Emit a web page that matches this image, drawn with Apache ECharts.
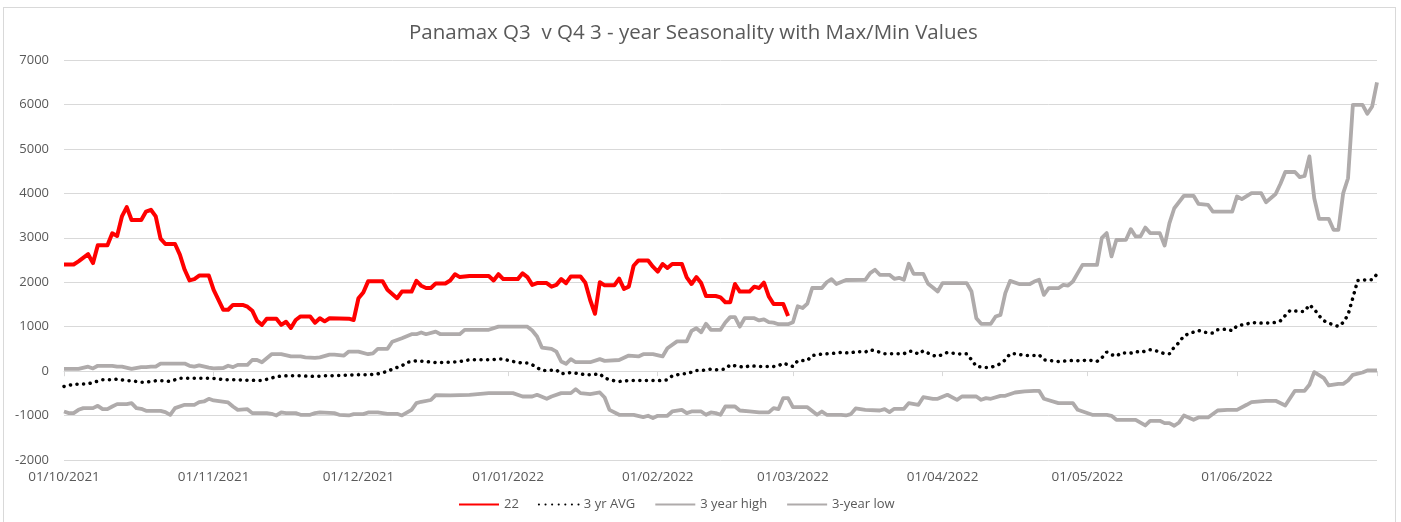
<!DOCTYPE html>
<html>
<head>
<meta charset="utf-8">
<title>Panamax Q3 v Q4 seasonality</title>
<script src="https://cdn.jsdelivr.net/npm/echarts@6/dist/echarts.min.js"></script>
<style>
  html, body { margin: 0; background: #fff; }
  #frame { position: absolute; left: 3px; top: 7px; width: 1391px; height: 530px; border: 1px solid #d9d9d9; }
  #chart { position: absolute; left: 0; top: 0; width: 1401px; height: 522px; }
</style>
</head>
<body>
<div id="frame"></div>
<div id="chart"></div>
<script>
// values, [date, value]
const series22 = [
  ['2021-10-01', 2400], ['2021-10-03', 2400], ['2021-10-04', 2470], ['2021-10-06', 2630], ['2021-10-07', 2430],
  ['2021-10-08', 2830], ['2021-10-10', 2830], ['2021-10-11', 3100], ['2021-10-12', 3040], ['2021-10-13', 3480],
  ['2021-10-14', 3690], ['2021-10-15', 3400], ['2021-10-17', 3400], ['2021-10-18', 3590], ['2021-10-19', 3630],
  ['2021-10-20', 3480], ['2021-10-21', 2980], ['2021-10-22', 2860], ['2021-10-24', 2860], ['2021-10-25', 2620],
  ['2021-10-26', 2280], ['2021-10-27', 2040], ['2021-10-28', 2070], ['2021-10-29', 2150], ['2021-10-31', 2150],
  ['2021-11-01', 1830], ['2021-11-03', 1380], ['2021-11-04', 1380], ['2021-11-05', 1490], ['2021-11-07', 1490],
  ['2021-11-08', 1450], ['2021-11-09', 1360], ['2021-11-10', 1130], ['2021-11-11', 1040], ['2021-11-12', 1180],
  ['2021-11-14', 1180], ['2021-11-15', 1040], ['2021-11-16', 1110], ['2021-11-17', 970], ['2021-11-18', 1150],
  ['2021-11-19', 1230], ['2021-11-21', 1230], ['2021-11-22', 1090], ['2021-11-23', 1190], ['2021-11-24', 1120],
  ['2021-11-25', 1190], ['2021-11-29', 1180], ['2021-11-30', 1150], ['2021-12-01', 1640], ['2021-12-02', 1770],
  ['2021-12-03', 2020], ['2021-12-06', 2020], ['2021-12-07', 1830], ['2021-12-09', 1640], ['2021-12-10', 1790],
  ['2021-12-12', 1790], ['2021-12-13', 2030], ['2021-12-14', 1920], ['2021-12-15', 1870], ['2021-12-16', 1870],
  ['2021-12-17', 1970], ['2021-12-19', 1970], ['2021-12-20', 2040], ['2021-12-21', 2180], ['2021-12-22', 2115],
  ['2021-12-24', 2140], ['2021-12-28', 2140], ['2021-12-29', 2040], ['2021-12-30', 2180], ['2021-12-31', 2070],
  ['2022-01-03', 2070], ['2022-01-04', 2200], ['2022-01-05', 2115], ['2022-01-06', 1940], ['2022-01-07', 1980],
  ['2022-01-09', 1980], ['2022-01-10', 1900], ['2022-01-11', 1940], ['2022-01-12', 2070], ['2022-01-13', 1980],
  ['2022-01-14', 2130], ['2022-01-16', 2130], ['2022-01-17', 1990], ['2022-01-18', 1600], ['2022-01-19', 1290],
  ['2022-01-20', 2000], ['2022-01-21', 1930], ['2022-01-23', 1930], ['2022-01-24', 2080], ['2022-01-25', 1850],
  ['2022-01-26', 1900], ['2022-01-27', 2370], ['2022-01-28', 2490], ['2022-01-30', 2490], ['2022-01-31', 2350],
  ['2022-02-01', 2240], ['2022-02-02', 2410], ['2022-02-03', 2320], ['2022-02-04', 2410], ['2022-02-06', 2410],
  ['2022-02-07', 2110], ['2022-02-08', 1960], ['2022-02-09', 2115], ['2022-02-10', 1980], ['2022-02-11', 1690],
  ['2022-02-13', 1690], ['2022-02-14', 1660], ['2022-02-15', 1550], ['2022-02-16', 1550], ['2022-02-17', 1960],
  ['2022-02-18', 1790], ['2022-02-20', 1790], ['2022-02-21', 1900], ['2022-02-22', 1870], ['2022-02-23', 1990],
  ['2022-02-24', 1680], ['2022-02-25', 1510], ['2022-02-27', 1510], ['2022-02-28', 1240]
]

const avg3yr = [
  ['2021-10-01', -345], ['2021-10-03', -295], ['2021-10-06', -286], ['2021-10-07', -256], ['2021-10-09', -196],
  ['2021-10-11', -196], ['2021-10-12', -180], ['2021-10-14', -218], ['2021-10-15', -218], ['2021-10-17', -248],
  ['2021-10-18', -248], ['2021-10-20', -218], ['2021-10-22', -218], ['2021-10-23', -233], ['2021-10-25', -158],
  ['2021-10-31', -158], ['2021-11-02', -173], ['2021-11-03', -196], ['2021-11-06', -196], ['2021-11-10', -211],
  ['2021-11-11', -211], ['2021-11-13', -158], ['2021-11-14', -121], ['2021-11-16', -106], ['2021-11-19', -106],
  ['2021-11-22', -121], ['2021-11-24', -106], ['2021-11-27', -98], ['2021-11-30', -83], ['2021-12-03', -83],
  ['2021-12-05', -61], ['2021-12-07', -8], ['2021-12-08', 45], ['2021-12-10', 120], ['2021-12-11', 195],
  ['2021-12-13', 232], ['2021-12-15', 216], ['2021-12-17', 194], ['2021-12-20', 200], ['2021-12-22', 216],
  ['2021-12-24', 254], ['2021-12-28', 254], ['2021-12-30', 270], ['2021-12-31', 270], ['2022-01-02', 216],
  ['2022-01-04', 180], ['2022-01-05', 180], ['2022-01-06', 142], ['2022-01-08', 14], ['2022-01-09', 14],
  ['2022-01-11', 29], ['2022-01-12', -61], ['2022-01-14', -31], ['2022-01-15', -46], ['2022-01-17', -83],
  ['2022-01-18', -83], ['2022-01-20', -61], ['2022-01-21', -158], ['2022-01-23', -218], ['2022-01-24', -233],
  ['2022-01-26', -211], ['2022-01-31', -211], ['2022-02-01', -218], ['2022-02-03', -196], ['2022-02-04', -106],
  ['2022-02-06', -61], ['2022-02-07', -61], ['2022-02-09', 14], ['2022-02-10', 14], ['2022-02-12', 45],
  ['2022-02-13', 29], ['2022-02-15', 45], ['2022-02-16', 142], ['2022-02-17', 120], ['2022-02-19', 83],
  ['2022-02-20', 120], ['2022-02-22', 104], ['2022-02-25', 104], ['2022-02-26', 120], ['2022-02-27', 180],
  ['2022-03-01', 104], ['2022-03-02', 232], ['2022-03-04', 240], ['2022-03-05', 352], ['2022-03-07', 382],
  ['2022-03-08', 390], ['2022-03-10', 405], ['2022-03-11', 420], ['2022-03-13', 405], ['2022-03-14', 442],
  ['2022-03-16', 427], ['2022-03-17', 480], ['2022-03-19', 427], ['2022-03-20', 390], ['2022-03-24', 390],
  ['2022-03-25', 450], ['2022-03-26', 442], ['2022-03-27', 382], ['2022-03-28', 457], ['2022-03-30', 352],
  ['2022-03-31', 330], ['2022-04-02', 420], ['2022-04-03', 405], ['2022-04-05', 382], ['2022-04-06', 390],
  ['2022-04-07', 255], ['2022-04-08', 105], ['2022-04-10', 82], ['2022-04-11', 82], ['2022-04-13', 165],
  ['2022-04-14', 255], ['2022-04-15', 390], ['2022-04-16', 390], ['2022-04-18', 352], ['2022-04-20', 352],
  ['2022-04-21', 367], ['2022-04-22', 255], ['2022-04-23', 240], ['2022-04-25', 217], ['2022-04-26', 225],
  ['2022-04-28', 240], ['2022-04-30', 232], ['2022-05-01', 254], ['2022-05-03', 217], ['2022-05-04', 300],
  ['2022-05-05', 430], ['2022-05-06', 370], ['2022-05-07', 335], ['2022-05-08', 410], ['2022-05-10', 405],
  ['2022-05-11', 442], ['2022-05-12', 420], ['2022-05-14', 480], ['2022-05-15', 465], ['2022-05-17', 390],
  ['2022-05-18', 390], ['2022-05-19', 540], ['2022-05-20', 645], ['2022-05-21', 795], ['2022-05-22', 840],
  ['2022-05-24', 915], ['2022-05-25', 877], ['2022-05-27', 855], ['2022-05-28', 930], ['2022-05-30', 945],
  ['2022-05-31', 907], ['2022-06-01', 1020], ['2022-06-03', 1057], ['2022-06-04', 1095], ['2022-06-06', 1080],
  ['2022-06-07', 1080], ['2022-06-09', 1095], ['2022-06-10', 1132], ['2022-06-11', 1252], ['2022-06-12', 1365],
  ['2022-06-14', 1342], ['2022-06-15', 1342], ['2022-06-16', 1492], ['2022-06-17', 1395], ['2022-06-18', 1245],
  ['2022-06-19', 1132], ['2022-06-20', 1080], ['2022-06-22', 1005], ['2022-06-23', 1095], ['2022-06-24', 1267],
  ['2022-06-25', 1650], ['2022-06-26', 2040], ['2022-06-28', 2055], ['2022-06-29', 2055], ['2022-06-30', 2182]
]

const high3yr = [
  ['2021-10-01', 50], ['2021-10-04', 50], ['2021-10-06', 100], ['2021-10-07', 60], ['2021-10-08', 120],
  ['2021-10-11', 120], ['2021-10-12', 100], ['2021-10-13', 100], ['2021-10-15', 50], ['2021-10-17', 90],
  ['2021-10-18', 90], ['2021-10-19', 100], ['2021-10-20', 100], ['2021-10-21', 170], ['2021-10-26', 170],
  ['2021-10-27', 120], ['2021-10-28', 100], ['2021-10-29', 130], ['2021-10-31', 80], ['2021-11-01', 60],
  ['2021-11-03', 70], ['2021-11-04', 120], ['2021-11-05', 90], ['2021-11-06', 140], ['2021-11-08', 140],
  ['2021-11-09', 250], ['2021-11-10', 250], ['2021-11-11', 200], ['2021-11-13', 380], ['2021-11-15', 380],
  ['2021-11-17', 330], ['2021-11-19', 330], ['2021-11-20', 310], ['2021-11-22', 300], ['2021-11-23', 310],
  ['2021-11-25', 370], ['2021-11-26', 370], ['2021-11-28', 350], ['2021-11-29', 440], ['2021-12-01', 440],
  ['2021-12-03', 380], ['2021-12-04', 400], ['2021-12-05', 500], ['2021-12-07', 500], ['2021-12-08', 660],
  ['2021-12-10', 740], ['2021-12-12', 830], ['2021-12-13', 830], ['2021-12-14', 870], ['2021-12-15', 830],
  ['2021-12-17', 890], ['2021-12-18', 830], ['2021-12-22', 830], ['2021-12-23', 930], ['2021-12-28', 930],
  ['2021-12-30', 1000], ['2022-01-05', 1000], ['2022-01-06', 915], ['2022-01-07', 780], ['2022-01-08', 530],
  ['2022-01-10', 500], ['2022-01-11', 440], ['2022-01-12', 216], ['2022-01-13', 165], ['2022-01-14', 270],
  ['2022-01-15', 200], ['2022-01-18', 200], ['2022-01-20', 270], ['2022-01-21', 230], ['2022-01-24', 250],
  ['2022-01-26', 350], ['2022-01-28', 330], ['2022-01-29', 380], ['2022-01-31', 380], ['2022-02-02', 330],
  ['2022-02-03', 515], ['2022-02-05', 670], ['2022-02-07', 670], ['2022-02-08', 905], ['2022-02-09', 965],
  ['2022-02-10', 875], ['2022-02-11', 1065], ['2022-02-12', 930], ['2022-02-14', 930], ['2022-02-15', 1095],
  ['2022-02-16', 1215], ['2022-02-17', 1215], ['2022-02-18', 1000], ['2022-02-19', 1190], ['2022-02-21', 1190],
  ['2022-02-22', 1140], ['2022-02-23', 1165], ['2022-02-24', 1100], ['2022-02-25', 1090], ['2022-02-26', 1055],
  ['2022-02-28', 1055], ['2022-03-01', 1100], ['2022-03-02', 1460], ['2022-03-03', 1420], ['2022-03-04', 1520],
  ['2022-03-05', 1870], ['2022-03-07', 1870], ['2022-03-08', 2000], ['2022-03-09', 2070], ['2022-03-10', 1960],
  ['2022-03-12', 2050], ['2022-03-16', 2055], ['2022-03-17', 2205], ['2022-03-18', 2280], ['2022-03-19', 2167],
  ['2022-03-21', 2167], ['2022-03-22', 2077], ['2022-03-23', 2100], ['2022-03-24', 2055], ['2022-03-25', 2415],
  ['2022-03-26', 2190], ['2022-03-28', 2190], ['2022-03-29', 1965], ['2022-03-30', 1880], ['2022-03-31', 1790],
  ['2022-04-01', 1980], ['2022-04-06', 1980], ['2022-04-07', 1790], ['2022-04-08', 1190], ['2022-04-09', 1065],
  ['2022-04-11', 1065], ['2022-04-12', 1230], ['2022-04-13', 1265], ['2022-04-14', 1755], ['2022-04-15', 2030],
  ['2022-04-17', 1955], ['2022-04-19', 1955], ['2022-04-20', 2015], ['2022-04-21', 2055], ['2022-04-22', 1715],
  ['2022-04-23', 1865], ['2022-04-25', 1865], ['2022-04-26', 1940], ['2022-04-27', 1925], ['2022-04-28', 2015],
  ['2022-04-29', 2205], ['2022-04-30', 2390], ['2022-05-03', 2390], ['2022-05-04', 3000], ['2022-05-05', 3105],
  ['2022-05-06', 2580], ['2022-05-07', 2950], ['2022-05-09', 2955], ['2022-05-10', 3195], ['2022-05-11', 3030],
  ['2022-05-12', 3030], ['2022-05-13', 3230], ['2022-05-14', 3105], ['2022-05-16', 3105], ['2022-05-17', 2825],
  ['2022-05-18', 3330], ['2022-05-19', 3665], ['2022-05-21', 3945], ['2022-05-23', 3945], ['2022-05-24', 3765],
  ['2022-05-26', 3740], ['2022-05-27', 3590], ['2022-05-31', 3590], ['2022-06-01', 3930], ['2022-06-02', 3870],
  ['2022-06-04', 4005], ['2022-06-06', 4005], ['2022-06-07', 3800], ['2022-06-09', 3985], ['2022-06-10', 4215],
  ['2022-06-11', 4480], ['2022-06-13', 4480], ['2022-06-14', 4365], ['2022-06-15', 4390], ['2022-06-16', 4830],
  ['2022-06-17', 3890], ['2022-06-18', 3425], ['2022-06-20', 3425], ['2022-06-21', 3180], ['2022-06-22', 3180],
  ['2022-06-23', 4005], ['2022-06-24', 4340], ['2022-06-25', 5990], ['2022-06-27', 5990], ['2022-06-28', 5790],
  ['2022-06-29', 5955], ['2022-06-30', 6495]
]

const low3yr = [
  ['2021-10-01', -909], ['2021-10-02', -945], ['2021-10-03', -945], ['2021-10-04', -871], ['2021-10-05', -833],
  ['2021-10-07', -833], ['2021-10-08', -781], ['2021-10-09', -856], ['2021-10-10', -856], ['2021-10-11', -796],
  ['2021-10-12', -743], ['2021-10-14', -743], ['2021-10-15', -720], ['2021-10-16', -833], ['2021-10-17', -848],
  ['2021-10-18', -893], ['2021-10-21', -893], ['2021-10-22', -923], ['2021-10-23', -983], ['2021-10-24', -833],
  ['2021-10-26', -758], ['2021-10-28', -758], ['2021-10-29', -698], ['2021-10-30', -683], ['2021-10-31', -623],
  ['2021-11-01', -661], ['2021-11-04', -706], ['2021-11-05', -796], ['2021-11-06', -871], ['2021-11-08', -856],
  ['2021-11-09', -945], ['2021-11-12', -945], ['2021-11-13', -960], ['2021-11-14', -998], ['2021-11-15', -930],
  ['2021-11-16', -945], ['2021-11-18', -945], ['2021-11-19', -983], ['2021-11-21', -983], ['2021-11-22', -945],
  ['2021-11-23', -930], ['2021-11-26', -945], ['2021-11-27', -983], ['2021-11-29', -998], ['2021-11-30', -968],
  ['2021-12-02', -968], ['2021-12-03', -930], ['2021-12-05', -930], ['2021-12-07', -960], ['2021-12-09', -960],
  ['2021-12-10', -998], ['2021-12-12', -871], ['2021-12-13', -720], ['2021-12-14', -690], ['2021-12-16', -650],
  ['2021-12-17', -540], ['2021-12-20', -548], ['2021-12-24', -533], ['2021-12-28', -496], ['2022-01-02', -496],
  ['2022-01-04', -571], ['2022-01-06', -571], ['2022-01-07', -533], ['2022-01-09', -623], ['2022-01-10', -571],
  ['2022-01-12', -496], ['2022-01-14', -496], ['2022-01-15', -406], ['2022-01-16', -496], ['2022-01-18', -518],
  ['2022-01-20', -481], ['2022-01-21', -593], ['2022-01-22', -871], ['2022-01-24', -983], ['2022-01-27', -983],
  ['2022-01-29', -1035], ['2022-01-30', -1005], ['2022-01-31', -1058], ['2022-02-01', -1005], ['2022-02-03', -1005],
  ['2022-02-04', -908], ['2022-02-06', -871], ['2022-02-07', -945], ['2022-02-08', -908], ['2022-02-10', -908],
  ['2022-02-11', -983], ['2022-02-12', -930], ['2022-02-13', -945], ['2022-02-14', -983], ['2022-02-15', -796],
  ['2022-02-17', -796], ['2022-02-18', -886], ['2022-02-20', -908], ['2022-02-22', -930], ['2022-02-24', -930],
  ['2022-02-25', -833], ['2022-02-26', -856], ['2022-02-27', -608], ['2022-02-28', -608], ['2022-03-01', -811],
  ['2022-03-04', -811], ['2022-03-06', -983], ['2022-03-07', -908], ['2022-03-08', -983], ['2022-03-11', -983],
  ['2022-03-12', -998], ['2022-03-13', -968], ['2022-03-14', -841], ['2022-03-16', -871], ['2022-03-19', -886],
  ['2022-03-20', -856], ['2022-03-21', -923], ['2022-03-22', -848], ['2022-03-24', -848], ['2022-03-25', -720],
  ['2022-03-27', -758], ['2022-03-28', -586], ['2022-03-30', -623], ['2022-03-31', -623], ['2022-04-02', -533],
  ['2022-04-04', -646], ['2022-04-05', -571], ['2022-04-08', -571], ['2022-04-09', -646], ['2022-04-10', -608],
  ['2022-04-11', -623], ['2022-04-13', -556], ['2022-04-14', -556], ['2022-04-16', -481], ['2022-04-18', -458],
  ['2022-04-20', -443], ['2022-04-21', -443], ['2022-04-22', -623], ['2022-04-25', -720], ['2022-04-28', -720],
  ['2022-04-29', -871], ['2022-05-02', -983], ['2022-05-05', -983], ['2022-05-06', -1005], ['2022-05-07', -1095],
  ['2022-05-11', -1095], ['2022-05-13', -1223], ['2022-05-14', -1118], ['2022-05-16', -1118], ['2022-05-17', -1170],
  ['2022-05-18', -1170], ['2022-05-19', -1230], ['2022-05-20', -1155], ['2022-05-21', -998], ['2022-05-23', -1095],
  ['2022-05-24', -1043], ['2022-05-26', -1043], ['2022-05-28', -886], ['2022-05-30', -871], ['2022-06-01', -871],
  ['2022-06-03', -758], ['2022-06-04', -698], ['2022-06-07', -668], ['2022-06-09', -668], ['2022-06-11', -773],
  ['2022-06-13', -443], ['2022-06-15', -443], ['2022-06-16', -308], ['2022-06-17', -23], ['2022-06-19', -158],
  ['2022-06-20', -323], ['2022-06-22', -286], ['2022-06-23', -286], ['2022-06-24', -211], ['2022-06-25', -83],
  ['2022-06-27', -31], ['2022-06-28', 14], ['2022-06-30', 14]
]

const seriesNames = ['22', '3 yr AVG', '3 year high', '3-year low']
const dateMin = '2021-10-01'
const dateMax = '2022-06-30'

const textColor = '#595959'
const gridColor = '#d9d9d9'
const greyLine = '#afabab'
const font = '"Open Sans", "Liberation Sans", sans-serif'

const pad = (n) => (n < 10 ? '0' + n : '' + n)
const fmtDate = (v) => {
  const d = new Date(v)
  return pad(d.getDate()) + '/' + pad(d.getMonth() + 1) + '/' + d.getFullYear()
}

const DAY = 24 * 3600 * 1000
const chart = echarts.init(document.getElementById('chart'))

const option = {
  animation: false,
  backgroundColor: 'transparent',
  textStyle: { fontFamily: font },
  title: {
    text: 'Panamax Q3  v Q4 3 - year Seasonality with Max/Min Values',
    left: 404,
    top: 18,
    textStyle: { fontFamily: font, fontSize: 20.5, fontWeight: 'normal', color: textColor },
  },
  legend: {
    data: seriesNames,
    left: 458,
    top: 498,
    padding: 0,
    itemWidth: 40,
    itemHeight: 12,
    itemGap: 19,
    itemStyle: { opacity: 0 },
    textStyle: { fontFamily: font, fontSize: 13, color: textColor },
  },
  grid: { left: 64, right: 24, top: 60, bottom: 62 },
  xAxis: [
    {
      type: 'time',
      min: dateMin,
      max: dateMax,
      splitNumber: 9,
      minInterval: 27 * DAY,
      axisLine: { show: false, onZero: false },
      axisTick: { show: false },
      splitLine: { show: false },
      axisLabel: {
        formatter: fmtDate,
        color: textColor,
        fontSize: 13.5,
        fontFamily: font,
        margin: 10,
        showMaxLabel: false,
        hideOverlap: false,
      },
    },
    {
      type: 'time',
      min: dateMin,
      max: dateMax,
      splitNumber: 9,
      minInterval: 27 * DAY,
      position: 'bottom',
      axisLine: { show: true, onZero: true, lineStyle: { color: gridColor, width: 1 } },
      axisTick: { show: true, length: 5, lineStyle: { color: gridColor } },
      axisLabel: { show: false },
      splitLine: { show: false },
    },
  ],
  yAxis: {
    type: 'value',
    min: -2000,
    max: 7000,
    interval: 1000,
    axisLine: { show: false },
    axisTick: { show: false },
    axisLabel: { color: textColor, fontSize: 13, fontFamily: font, margin: 15, formatter: (v) => String(v) },
    splitLine: { lineStyle: { color: gridColor, width: 1 } },
  },
  series: [
    {
      name: '22',
      type: 'line',
      symbol: 'none',
      data: series22,
      lineStyle: { color: '#ff0000', width: 4, join: 'round' },
      itemStyle: { color: '#ff0000' },
      z: 5,
    },
    {
      name: '3 yr AVG',
      type: 'line',
      symbol: 'none',
      data: avg3yr,
      lineStyle: { color: '#000000', width: 3.5, type: [0.1, 6.5], cap: 'round' },
      itemStyle: { color: '#000000' },
      z: 4,
    },
    {
      name: '3 year high',
      type: 'line',
      symbol: 'none',
      data: high3yr,
      lineStyle: { color: greyLine, width: 3.8, join: 'round' },
      itemStyle: { color: greyLine },
      z: 3,
    },
    {
      name: '3-year low',
      type: 'line',
      symbol: 'none',
      data: low3yr,
      lineStyle: { color: greyLine, width: 3.8, join: 'round' },
      itemStyle: { color: greyLine },
      z: 3,
    },
  ],
}

chart.setOption(option)
</script>
</body>
</html>
